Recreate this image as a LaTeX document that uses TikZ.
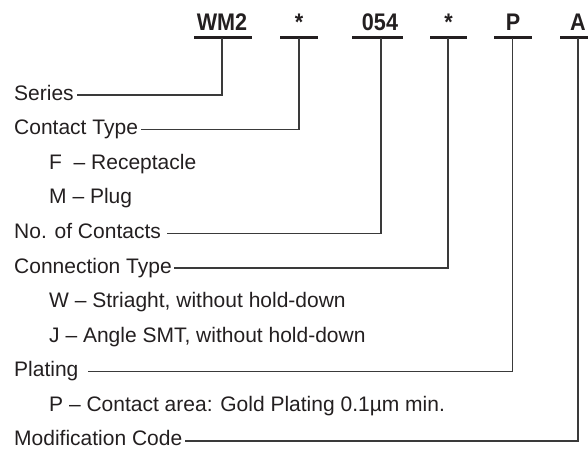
\documentclass[tikz,border=0pt]{standalone}
\usepackage{fontspec}
\setmainfont{Liberation Sans}
\newfontfamily\codefont[FakeStretch=0.9]{Liberation Sans}
\usetikzlibrary{calc}
\definecolor{ink}{HTML}{231F20}
\definecolor{wire}{HTML}{3A3A3A}
\begin{document}
\begin{tikzpicture}[x=1pt,y=-1pt,
  code/.style={font=\codefont\fontsize{24}{26}\selectfont\bfseries, text=ink, inner sep=0pt, anchor=base},
  lbl/.style={font=\fontsize{21}{24}\selectfont, text=ink, inner sep=0pt, anchor=base west},
  uline/.style={draw=ink, line width=2.3pt},
  conn/.style={draw=wire, line width=1.2pt}]
\useasboundingbox (0,0) rectangle (588,448);
% code letters
\node[code] (c1) at (222,30) {WM2};
\node[code] (c2) at (299,30) {*};
\node[code] (c3) at (380,30) {054};
\node[code] (c4) at (448.5,30) {*};
\node[code] (c5) at (513,30) {P};
\node[code] (c6) at (578,30) {A};
% underlines
\draw[uline] (194,37.5) -- (252,37.5);
\draw[uline] (280,37.5) -- (318,37.5);
\draw[uline] (352,37.5) -- (403,37.5);
\draw[uline] (430,37.5) -- (467,37.5);
\draw[uline] (494,37.5) -- (532,37.5);
\draw[uline] (560,37.5) -- (600,37.5);
\coordinate (u1) at (222,37.5);
\coordinate (u2) at (299,37.5);
\coordinate (u3) at (381,37.5);
\coordinate (u4) at (448,37.5);
\coordinate (u5) at (512.5,37.5);
\coordinate (u6) at (578,37.5);
% labels
\node[lbl] (series) at (14,100) {Series};
\node[lbl] (ctype) at (14,134.6) {Contact Type};
\node[lbl] (f) at (49,169.2) {F \ – Receptacle};
\node[lbl] (m) at (49,203.8) {M – Plug};
\node[lbl] (nocon) at (14,238.4) {No. of Contacts};
\node[lbl] (conn) at (14,273) {Connection Type};
\node[lbl] (w) at (49,307.6) {W – Striaght, without hold-down};
\node[lbl] (j) at (49,342.2) {J – Angle SMT, without hold-down};
\node[lbl] (plating) at (14,376.8) {Plating};
\node[lbl] (p) at (49,411.4) {P – Contact area: Gold Plating 0.1µm min.};
\node[lbl] (mod) at (14,445) {Modification Code};
% line starts
\coordinate (s1) at ($(series.base east)+(3pt,5pt)$);
\coordinate (s2) at ($(ctype.base east)+(3pt,5pt)$);
\coordinate (s3) at ($(nocon.base east)+(6pt,5pt)$);
\coordinate (s4) at ($(conn.base east)+(2pt,5pt)$);
\coordinate (s5) at ($(plating.base east)+(9pt,5pt)$);
\coordinate (s6) at ($(mod.base east)+(3pt,4pt)$);
% connectors
\draw[conn] (u1) |- (s1);
\draw[conn] (u2) |- (s2);
\draw[conn] (u3) |- (s3);
\draw[conn] (u4) |- (s4);
\draw[conn] (u5) |- (s5);
\draw[conn] (u6) |- (s6);
\end{tikzpicture}
\end{document}
